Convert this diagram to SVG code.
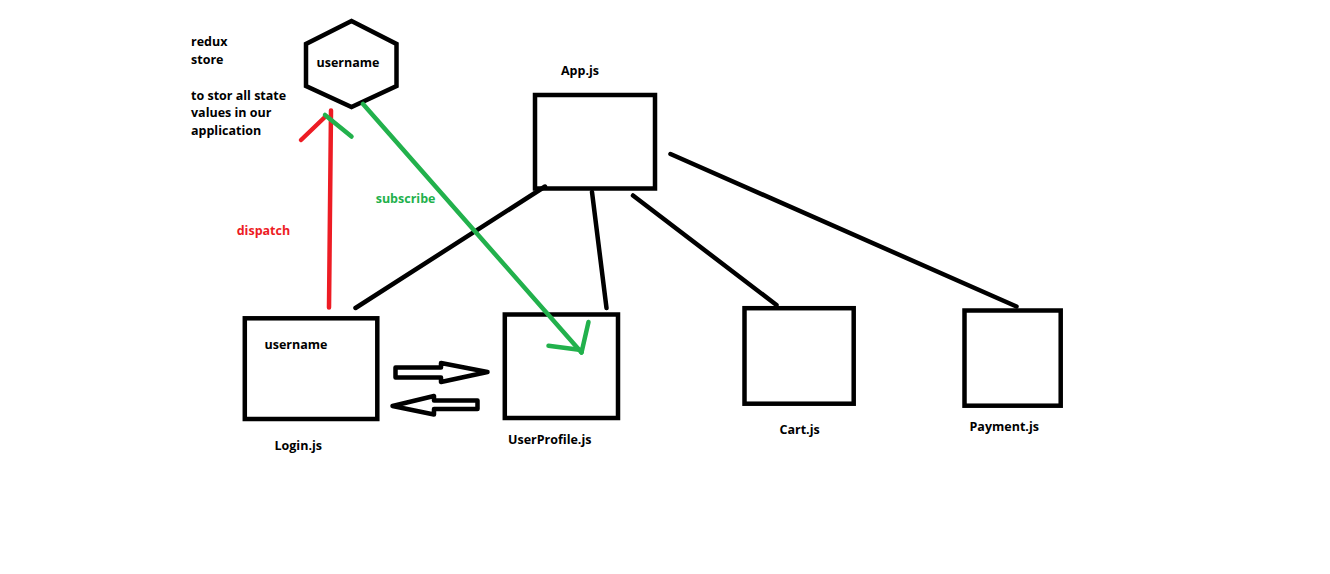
<svg xmlns="http://www.w3.org/2000/svg" width="1330" height="574" viewBox="0 0 1330 574">
<style>
.box{fill:#fff;stroke:#000;stroke-width:4.5}
.t{font-family:"Open Sans","Liberation Sans",sans-serif;font-weight:bold;font-size:12.5px;fill:#000}
.k{stroke:#000;stroke-width:4.5;stroke-linecap:round;fill:none}
.r{stroke:#ED1C24;stroke-width:4.5;stroke-linecap:round;fill:none}
.g{stroke:#22B14C;stroke-width:4.5;stroke-linecap:round;fill:none}
.ha{fill:#fff;stroke:#000;stroke-width:4.5;stroke-linejoin:round}
</style>
<rect width="1330" height="574" fill="#fff"/>
<g id="store-note">
<text class="t" x="191" y="46">redux</text>
<text class="t" x="191" y="63.5">store</text>
<text class="t" x="191" y="99.5">to stor all state</text>
<text class="t" x="191" y="117">values in our</text>
<text class="t" x="191" y="134.5">application</text>
</g>
<g id="store">
<polygon class="box" points="351.5,21 396.5,44 396.5,86 351.5,107 306,86 306,44"/>
<text class="t" x="316.5" y="66.5">username</text>
</g>
<g id="app">
<rect class="box" x="535" y="95" width="120" height="93.5"/>
<text class="t" x="561" y="74.5">App.js</text>
</g>
<g id="login">
<rect class="box" x="244.8" y="318.3" width="132.5" height="100.7"/>
<text class="t" x="264.5" y="348.5">username</text>
<text class="t" x="274.5" y="449.5">Login.js</text>
</g>
<g id="userprofile">
<rect class="box" x="504.8" y="314.5" width="113.2" height="103.5"/>
<text class="t" x="508" y="443.5">UserProfile.js</text>
</g>
<g id="cart">
<rect class="box" x="744.5" y="308.2" width="109.2" height="95.5"/>
<text class="t" x="779.5" y="433.5">Cart.js</text>
</g>
<g id="payment">
<rect class="box" x="964.5" y="310.5" width="96.2" height="95.2"/>
<text class="t" x="969.5" y="430.5">Payment.js</text>
</g>
<g id="connectors">
<line class="k" x1="545" y1="186.5" x2="355.5" y2="308"/>
<line class="k" x1="592" y1="192" x2="606.5" y2="308"/>
<line class="k" x1="633" y1="195.5" x2="776.5" y2="305"/>
<line class="k" x1="670.5" y1="154" x2="1016.5" y2="306.5"/>
<line class="r" x1="329" y1="307.5" x2="331" y2="110.5"/>
<line class="r" x1="301" y1="140" x2="325.5" y2="116.5"/>
<line class="g" x1="325" y1="115" x2="351.5" y2="136.5"/>
<line class="g" x1="363" y1="104" x2="581.5" y2="352.5"/>
<line class="g" x1="588.5" y1="322" x2="581.5" y2="352.5"/>
<line class="g" x1="548.5" y1="345.8" x2="581" y2="350"/>
<text x="375.7" y="202.7" font-family="Open Sans, Liberation Sans, sans-serif" font-weight="bold" font-size="12.5" fill="#22B14C">subscribe</text>
<text x="236.7" y="235" font-family="Open Sans, Liberation Sans, sans-serif" font-weight="bold" font-size="12.5" fill="#ED1C24">dispatch</text>
<polygon class="ha" points="395.5,367.5 441,367.5 441,363 487.5,372 441,382 441,377.5 395.5,377.5"/>
<polygon class="ha" points="392.5,406 434,396 434,400.5 477.5,400.5 477.5,409 434,409 434,414.5"/>
</g>
</svg>
